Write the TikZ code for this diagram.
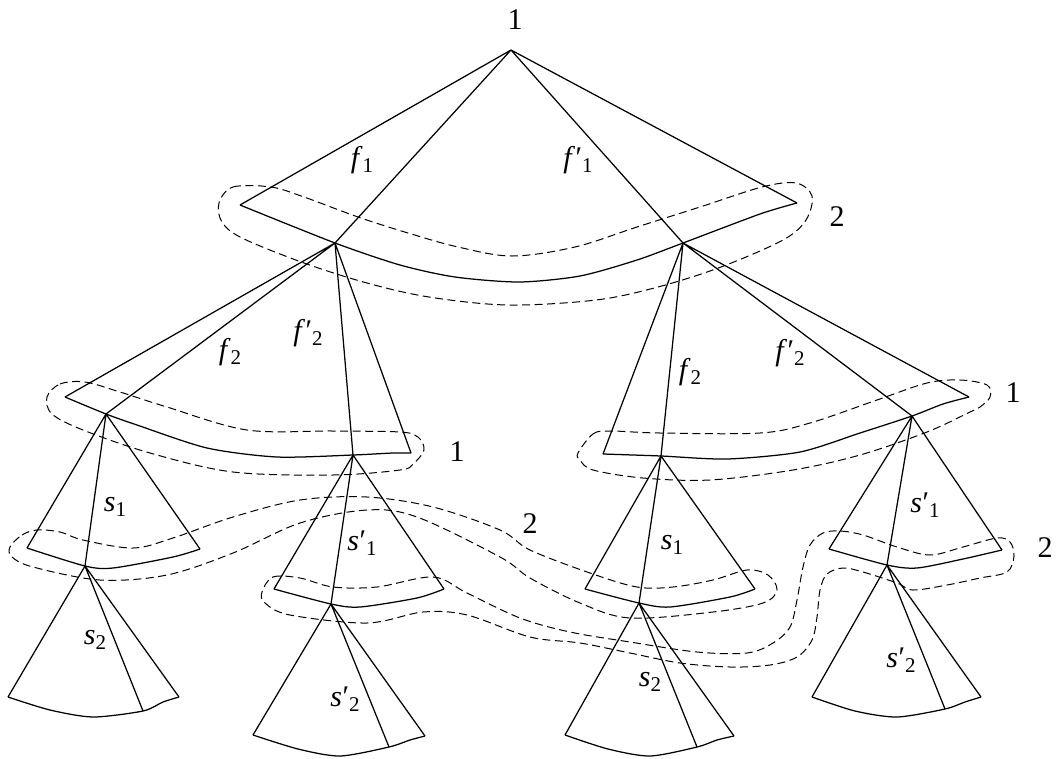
\documentclass[tikz,border=0pt]{standalone}
\usepackage{fontspec}
\setmainfont{Liberation Serif}
\newcommand\sbs[1]{\raisebox{-0.35ex}{\fontsize{21}{21}\selectfont #1}}
\newcommand\pr{\kern0.02em′}
\begin{document}
\begin{tikzpicture}[x=1pt,y=-1pt,
  edge/.style={line width=1.25pt, line join=round},
  infoset/.style={line width=1pt, dash pattern=on 8pt off 4.5pt},
  lbl/.style={font=\fontsize{30}{30}\selectfont, inner sep=0pt},
]
\useasboundingbox (0,0) rectangle (1060,758);

% ---- top fan
\coordinate (A) at (511,50);
\coordinate (TL) at (240,205);
\coordinate (TR) at (797,203);
\coordinate (L1) at (335,243);
\coordinate (R1) at (683,243);
\draw[edge] (A) -- (TL) (A) -- (L1) (A) -- (R1) (A) -- (TR);
\draw[edge] plot[smooth, tension=0.45] coordinates {(TL) (L1) (400,265) (455,277) (519,282) (580,276) (637,260) (R1) (760,214) (TR)};

% ---- level 2 left
\coordinate (LL) at (65,397);
\coordinate (L2a) at (106,414);
\coordinate (L2b) at (353,455);
\coordinate (LR) at (411,453);
\draw[edge] (L1) -- (LL) (L1) -- (L2a) (L1) -- (L2b) (L1) -- (LR);
\draw[edge] plot[smooth, tension=0.45] coordinates {(LL) (L2a) (137,425) (207,448) (277,457) (L2b) (393,453) (LR)};

% ---- level 2 right
\coordinate (RL) at (603,454);
\coordinate (R2a) at (661,456);
\coordinate (R2b) at (912,416);
\coordinate (RR) at (969,397);
\draw[edge] (R1) -- (RL) (R1) -- (R2a) (R1) -- (R2b) (R1) -- (RR);
\draw[edge] plot[smooth, tension=0.45] coordinates {(RL) (R2a) (727,459) (800,452) (860,433) (R2b) (943,404) (RR)};

% ---- level 3 fans
\coordinate (aL) at (27,548);
\coordinate (L3a) at (85,566);
\coordinate (aR) at (200,549);
\draw[edge] (L2a) -- (aL) (L2a) -- (L3a) (L2a) -- (aR);
\draw[edge] plot[smooth, tension=0.45] coordinates {(aL) (L3a) (113,568) (173,557) (aR)};

\coordinate (bL) at (274,589);
\coordinate (L3b) at (331,604);
\coordinate (bR) at (444,589);
\draw[edge] (L2b) -- (bL) (L2b) -- (L3b) (L2b) -- (bR);
\draw[edge] plot[smooth, tension=0.45] coordinates {(bL) (L3b) (360,607) (417,598) (bR)};

\coordinate (cL) at (585,589);
\coordinate (R3a) at (639,603);
\coordinate (cR) at (755,589);
\draw[edge] (R2a) -- (cL) (R2a) -- (R3a) (R2a) -- (cR);
\draw[edge] plot[smooth, tension=0.45] coordinates {(cL) (R3a) (670,607) (730,597) (cR)};

\coordinate (dL) at (829,549);
\coordinate (R3b) at (887,565);
\coordinate (dR) at (1002,550);
\draw[edge] (R2b) -- (dL) (R2b) -- (R3b) (R2b) -- (dR);
\draw[edge] plot[smooth, tension=0.45] coordinates {(dL) (R3b) (917,568) (963,559) (dR)};

% ---- leaf fans
\coordinate (eL) at (8,697);
\coordinate (eM) at (143,711);
\coordinate (eR) at (179,697);
\draw[edge] (L3a) -- (eL) (L3a) -- (eM) (L3a) -- (eR);
\draw[edge] plot[smooth, tension=0.45] coordinates {(eL) (50,710) (93,717) (eM) (163,702) (eR)};

\coordinate (gL) at (253,735);
\coordinate (gM) at (389,747);
\coordinate (gR) at (425,736);
\draw[edge] (L3b) -- (gL) (L3b) -- (gM) (L3b) -- (gR);
\draw[edge] plot[smooth, tension=0.45] coordinates {(gL) (298,749) (340,756) (gM) (410,740) (gR)};

\coordinate (hL) at (565,735);
\coordinate (hM) at (697,747);
\coordinate (hR) at (734,736);
\draw[edge] (R3a) -- (hL) (R3a) -- (hM) (R3a) -- (hR);
\draw[edge] plot[smooth, tension=0.45] coordinates {(hL) (608,749) (650,756) (hM) (717,740) (hR)};

\coordinate (kL) at (812,697);
\coordinate (kM) at (945,709);
\coordinate (kR) at (981,697);
\draw[edge] (R3b) -- (kL) (R3b) -- (kM) (R3b) -- (kR);
\draw[edge] plot[smooth, tension=0.45] coordinates {(kL) (855,711) (897,717) (kM) (965,702) (kR)};

% ---- information sets
\draw[infoset] plot[smooth cycle, tension=0.55] coordinates {(219,203) (233,187) (271,187) (304,197) (358,217) (408,233) (458,247) (512,256) (575,247) (637,227) (700,207) (762,187) (796,183) (812,196) (806,220) (783,240) (721,267) (658,287) (596,300) (508,305) (429,297) (367,283) (304,263) (242,238) (222,222)};

\draw[infoset] plot[smooth cycle, tension=0.55] coordinates {(47,397) (60,384) (85,382) (120,392) (167,407) (247,430) (333,431) (400,432) (418,437) (424,450) (413,464) (400,470) (333,475) (233,472) (150,453) (83,430) (52,414)};

\draw[infoset] plot[smooth cycle, tension=0.55] coordinates {(578,453) (593,434) (610,431) (660,433) (760,433) (810,423) (877,400) (927,383) (960,380) (987,385) (990,397) (980,407) (970,412) (927,432) (860,455) (793,470) (710,480) (643,478) (593,470) (580,460)};

\draw[infoset] plot[smooth cycle, tension=0.55] coordinates {(10,547) (22,535) (37,530) (60,532) (83,540) (133,548) (173,538) (233,517) (300,500) (367,497) (433,507) (500,530) (530,550) (590,573) (637,587) (673,587) (713,580) (747,570) (768,575) (777,590) (763,603) (713,612) (630,618) (580,603) (530,578) (500,557) (417,517) (367,510) (300,523) (233,553) (167,575) (100,580) (33,567) (12,557)};

\draw[infoset] plot[smooth cycle, tension=0.55] coordinates {(262,592) (273,577) (300,578) (333,587) (377,587) (433,577) (467,593) (520,618) (570,632) (630,642) (697,652) (747,653) (773,643) (790,627) (797,600) (803,567) (810,545) (823,533) (840,531) (863,535) (897,547) (930,555) (963,547) (997,538) (1010,542) (1014,556) (1007,572) (980,578) (947,585) (913,590) (897,583) (863,572) (843,568) (827,574) (820,590) (817,617) (812,640) (797,657) (770,665) (730,667) (680,663) (630,653) (580,643) (530,637) (467,615) (423,612) (367,623) (290,615) (265,603)};

% ---- labels
\node[lbl] (p1) at (515,20) {1};
\node[lbl] (p2) at (837,217) {2};
\node[lbl] (p3) at (457,452) {1};
\node[lbl] (p4) at (1013,393) {1};
\node[lbl] (p5) at (530,524) {2};
\node[lbl] (p6) at (1045,548) {2};
\node[lbl] (f1) at (362,160) {\textit{f}\sbs{1}};
\node[lbl] (f1p) at (578,160) {\textit{f}\pr\sbs{1}};
\node[lbl] (f2a) at (230,352) {\textit{f}\sbs{2}};
\node[lbl] (f2pa) at (308,333) {\textit{f}\pr\sbs{2}};
\node[lbl] (f2b) at (690,372) {\textit{f}\sbs{2}};
\node[lbl] (f2pb) at (790,353) {\textit{f}\pr\sbs{2}};
\node[lbl] (s1a) at (115,507) {\textit{s}\sbs{1}};
\node[lbl] (s1pa) at (362,543) {\textit{s}\pr\sbs{1}};
\node[lbl] (s1b) at (672,545) {\textit{s}\sbs{1}};
\node[lbl] (s1pb) at (925,505) {\textit{s}\pr\sbs{1}};
\node[lbl] (s2a) at (95,640) {\textit{s}\sbs{2}};
\node[lbl] (s2pa) at (345,699) {\textit{s}\pr\sbs{2}};
\node[lbl] (s2b) at (650,682) {\textit{s}\sbs{2}};
\node[lbl] (s2pb) at (901,660) {\textit{s}\pr\sbs{2}};
\end{tikzpicture}
\end{document}
